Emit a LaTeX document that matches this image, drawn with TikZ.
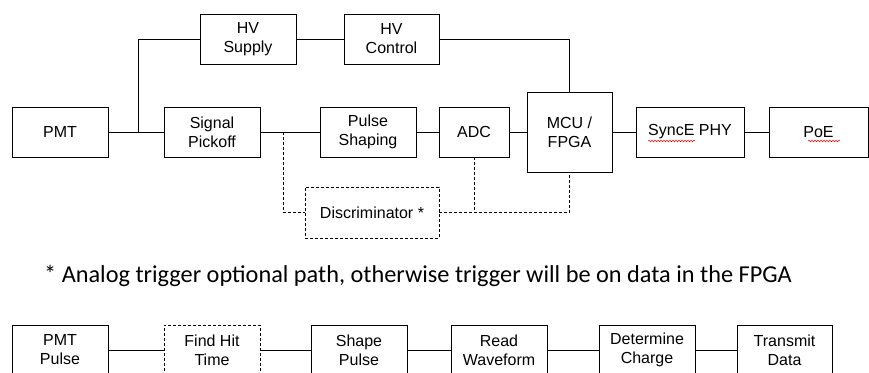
\documentclass[tikz,border=0pt]{standalone}
\usepackage{fontspec}
\setmainfont{Liberation Sans}
\newfontfamily\carlitofont{Carlito}
\usetikzlibrary{decorations.pathmorphing}
\begin{document}
\begin{tikzpicture}[x=1pt,y=-1pt,
  box/.style={draw, line width=0.8pt, minimum width=96pt, minimum height=50pt, align=center,
    font=\fontsize{16}{19}\selectfont, inner sep=0pt},
  dbox/.style={box, dash pattern=on 3pt off 2pt},
  conn/.style={line width=0.8pt},
  dconn/.style={line width=0.8pt, dash pattern=on 3pt off 2pt},
  wavy/.style={red, line width=0.5pt, decorate, decoration={snake, amplitude=0.8pt, segment length=3pt}}]
\useasboundingbox (0,0) rectangle (869,372);
\clip (0,0) rectangle (869,372);
% top diagram
\node[box] (pmt) at (60,132) {PMT};
\node[box] (hvs) at (248,39) {HV\\Supply};
\node[box, minimum width=95pt] (hvc) at (391.5,39) {HV\\Control};
\node[box] (sp) at (212,132) {Signal\\Pickoff};
\node[box] (ps) at (368,132) {Pulse\\Shaping};
\node[box, minimum width=70pt] (adc) at (474,132) {ADC};
\node[box, minimum width=85pt, minimum height=80pt] (mcu) at (569.5,132) {MCU /\\FPGA};
\node[box, minimum width=108pt] (phy) at (690,132) {SyncE PHY};
\node[box, minimum width=99pt] (poe) at (818.5,132) {PoE};
\node[dbox, minimum width=134pt, minimum height=51pt] (disc) at (372,212.5) {Discriminator *};
\coordinate (j) at (138,132);
\coordinate (d1) at (283,132);
\draw[conn] (pmt.east) -- (sp.west);
\draw[conn] (j) |- (hvs.west);
\draw[conn] (hvs.east) -- (hvc.west);
\draw[conn] (hvc.east) -| (mcu.north);
\draw[dconn] (d1) |- (disc.west);
\draw[dconn] (disc.east) -| (mcu.south);
\draw[dconn] (adc.south) -- (adc.south |- disc.east);
\draw[conn] (sp.east) -- (ps.west);
\draw[conn] (ps.east) -- (adc.west);
\draw[conn] (adc.east) -- (mcu.west);
\draw[conn] (mcu.east) -- (phy.west);
\draw[conn] (phy.east) -- (poe.west);
\draw[wavy] (648,141) -- (695,141);
\draw[wavy] (808,141) -- (840,141);
% footnote
\node[anchor=base, inner sep=0pt, font=\carlitofont\fontsize{24.3}{28}\selectfont] (note) at (418,282)
  {* Analog trigger optional path, otherwise trigger will be on data in the FPGA};
% bottom diagram
\node[box] (b1) at (60,350) {PMT\\Pulse};
\node[dbox] (b2) at (212,350) {Find Hit\\Time};
\node[box] (b3) at (359,350) {Shape\\Pulse};
\node[box] (b4) at (499,350) {Read\\Waveform};
\node[box] (b5) at (647,350) {Determine\\Charge};
\node[box, minimum width=95pt] (b6) at (784.5,350) {Transmit\\Data};
\draw[conn] (b1) -- (b2);
\draw[conn] (b2) -- (b3);
\draw[conn] (b3) -- (b4);
\draw[conn] (b4) -- (b5);
\draw[conn] (b5) -- (b6);
\end{tikzpicture}
\end{document}
